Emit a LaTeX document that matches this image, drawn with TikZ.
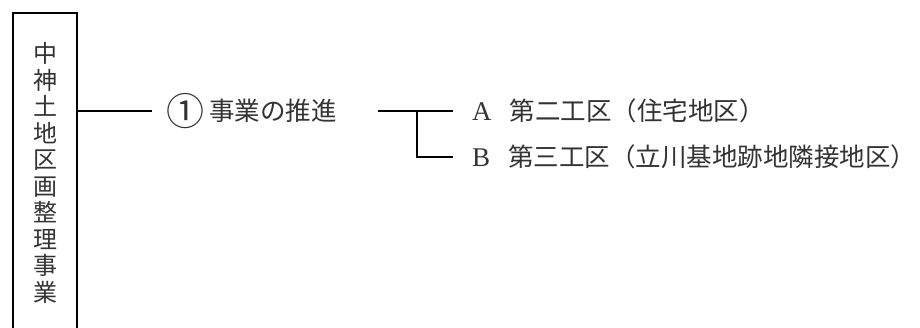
\documentclass[tikz,border=0pt]{standalone}
\usepackage{fontspec}
\setmainfont{Liberation Serif}
\newfontfamily\cjk{Noto Sans CJK JP}
\begin{document}
\begin{tikzpicture}[x=1pt,y=-1pt,
  conn/.style={line width=2pt,black},
  lbl/.style={anchor=west,inner sep=0pt,text=black!80,font=\cjk\fontsize{25.5}{28}\selectfont},
  titlebox/.style={draw,line width=2pt,anchor=north west,inner sep=0pt,minimum width=64pt,minimum height=320pt,align=center,text=black!80,font=\cjk\fontsize{24}{26.5}\selectfont}]
\useasboundingbox (0,0) rectangle (920,327);
\node[titlebox] (box) at (12,12) {中\\神\\土\\地\\区\\画\\整\\理\\事\\業};
\node[lbl] (p1) at (166,111) {\raisebox{-4.5pt}{\fontsize{38}{38}\selectfont ①}\hspace{5pt}事業の推進};
\coordinate (j) at (417,111);
\node[lbl] (a) at (472,111) {{\rmfamily\fontsize{27}{28}\selectfont A}\hspace{18pt}第二工区（住宅地区）};
\node[lbl] (b) at (472,157) {{\rmfamily\fontsize{27}{28}\selectfont B}\hspace{18pt}第三工区（立川基地跡地隣接地区）};
\draw[conn] (box.east |- p1.west) -- ([xshift=-14]p1.west);
\draw[conn] ([xshift=41]p1.east) -- (j) -- ([xshift=-19]a.west);
\draw[conn] (j) |- ([xshift=-19]b.west);
\end{tikzpicture}
\end{document}
